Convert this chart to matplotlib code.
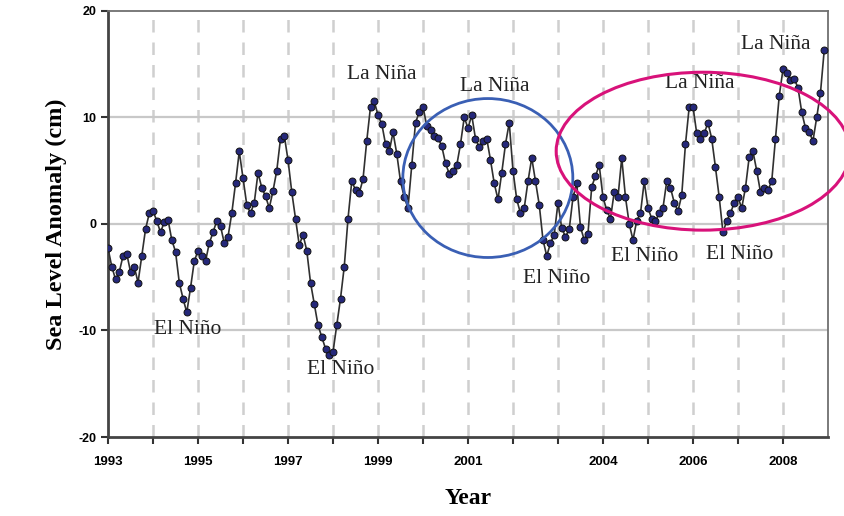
import numpy as np
import matplotlib.pyplot as plt
from matplotlib.patches import Ellipse

# monthly sea level anomaly (cm), Jan 1993 .. Dec 2008
years = list(range(1993, 2009))
anomaly = {
    1993: [-2.3, -4.0, -5.2, -4.5, -3.0, -2.8, -4.5, -4.0, -5.5, -3.0, -0.5, 1.0],
    1994: [1.2, 0.3, -0.8, 0.2, 0.4, -1.5, -2.6, -5.5, -7.0, -8.3, -6.0, -3.5],
    1995: [-2.5, -3.0, -3.5, -1.8, -0.8, 0.3, -0.2, -1.8, -1.2, 1.0, 3.8, 6.8],
    1996: [4.3, 1.8, 1.0, 2.0, 4.8, 3.4, 2.6, 1.5, 3.1, 5.0, 8.0, 8.3],
    1997: [6.0, 3.0, 0.5, -2.0, -1.0, -2.5, -5.5, -7.5, -9.5, -10.6, -11.7, -12.3],
    1998: [-12.0, -9.5, -7.0, -4.0, 0.5, 4.0, 3.2, 2.9, 4.2, 7.8, 11.0, 11.5],
    1999: [10.2, 9.4, 7.5, 6.8, 8.6, 6.6, 4.0, 2.5, 1.5, 5.5, 9.5, 10.5],
    2000: [11.0, 9.2, 8.8, 8.3, 8.1, 7.3, 5.7, 4.7, 5.0, 5.5, 7.5, 10.0],
    2001: [9.0, 10.2, 8.0, 7.2, 7.8, 8.0, 6.0, 3.8, 2.3, 4.8, 7.5, 9.5],
    2002: [5.0, 2.3, 1.0, 1.5, 4.0, 6.2, 4.0, 1.8, -1.5, -3.0, -1.8, -1.0],
    2003: [2.0, -0.4, -1.2, -0.5, 2.5, 3.8, -0.3, -1.5, -0.9, 3.5, 4.5, 5.5],
    2004: [2.5, 1.3, 0.5, 3.0, 2.5, 6.2, 2.5, 0.0, -1.5, 0.3, 1.0, 4.0],
    2005: [1.5, 0.5, 0.3, 1.0, 1.5, 4.0, 3.4, 2.0, 1.2, 2.7, 7.5, 11.0],
    2006: [11.0, 8.5, 8.0, 8.5, 9.5, 8.0, 5.3, 2.5, -0.8, 0.3, 1.0, 2.0],
    2007: [2.5, 1.5, 3.4, 6.3, 6.8, 5.0, 3.0, 3.4, 3.2, 4.0, 8.0, 12.0],
    2008: [14.5, 14.2, 13.5, 13.6, 12.8, 10.5, 9.0, 8.6, 7.8, 10.0, 12.3, 16.3],
}

tick_years = list(range(1993, 2009))
labelled_years = [1993, 1995, 1997, 1999, 2001, 2004, 2006, 2008]
y_ticks = [-20, -10, 0, 10, 20]

events = ["El Niño", "El Niño", "La Niña", "La Niña", "El Niño",
          "El Niño", "El Niño", "La Niña", "La Niña"]
event_pos = [(1994.76, -9.9), (1998.16, -13.7), (1999.09, 14.0), (2001.6, 12.9),
             (2002.98, -5.1), (2004.93, -3.1), (2007.04, -2.9), (2006.16, 13.2),
             (2007.84, 16.8)]

t = []
v = []
for yr in years:
    for m, val in enumerate(anomaly[yr]):
        t.append(yr + m / 12.0)
        v.append(val)

fig = plt.figure(figsize=(8.44, 5.16), dpi=100)
ax = fig.add_axes([0.128, 0.153, 0.853, 0.826])

ax.plot(t, v, color='#303030', lw=1.2, marker='o', markersize=5,
        markerfacecolor='#25287a', markeredgecolor='#111111', markeredgewidth=0.7,
        zorder=3)

ax.set_xlim(1993, 2009)
ax.set_ylim(-20, 20)

for yr in tick_years[1:]:
    ax.axvline(yr, color='#cfcfcf', lw=1.8, ls=(0, (5, 4)), zorder=1)
for yv in [-10, 0, 10]:
    ax.axhline(yv, color='#c8c8c8', lw=1.6, zorder=1)

ax.set_xticks(tick_years)
ax.set_xticklabels([str(y) if y in labelled_years else '' for y in tick_years],
                   fontfamily='Liberation Sans', fontweight='bold', fontsize=9.5)
ax.set_yticks(y_ticks)
ax.set_yticklabels([str(y) for y in y_ticks],
                   fontfamily='Liberation Sans', fontweight='bold', fontsize=9)
ax.tick_params(axis='both', direction='out', length=5, width=1.5, color='#333333')
ax.tick_params(axis='x', pad=9)

for s in ['left', 'bottom']:
    ax.spines[s].set_linewidth(2)
    ax.spines[s].set_color('#444444')
for s in ['top', 'right']:
    ax.spines[s].set_linewidth(1.3)
    ax.spines[s].set_color('#707070')

ax.set_ylabel('Sea Level Anomaly (cm)', fontfamily='Liberation Serif',
              fontweight='bold', fontsize=17.5, labelpad=8)
ax.set_xlabel('Year', fontfamily='Liberation Serif', fontweight='bold',
              fontsize=17, labelpad=14)

for txt, (x, y) in zip(events, event_pos):
    ax.text(x, y, txt, ha='center', va='center', fontfamily='Liberation Serif',
            fontsize=15.5, color='#222222', zorder=4)

fig.patches.append(Ellipse((0.578, 0.655), 0.2014, 0.308, transform=fig.transFigure,
                           fill=False, edgecolor='#3a5fb4', lw=2.0, zorder=5))
fig.patches.append(Ellipse((0.833, 0.707), 0.348, 0.306, transform=fig.transFigure,
                           fill=False, edgecolor='#d8127a', lw=2.2, zorder=5))

fig.savefig('out.png', dpi=100)
